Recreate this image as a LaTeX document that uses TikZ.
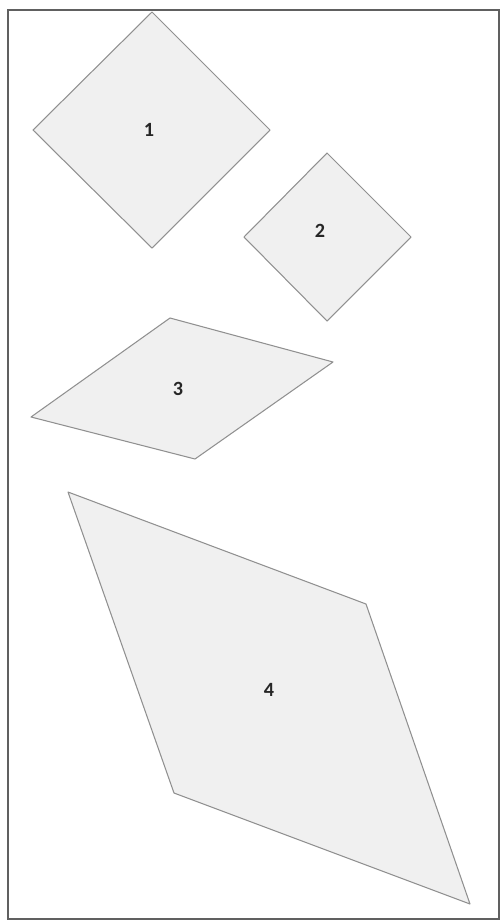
\documentclass[tikz,border=0pt]{standalone}
\usepackage{xcolor}
\usepackage{fontspec}
\setmainfont{Carlito}
\usepackage{tikz}
\usetikzlibrary {positioning}

\definecolor{paneFill}{HTML}{F0F0F0}
\definecolor{paneLine}{HTML}{909090}
\definecolor{frameLine}{HTML}{606060}

\tikzset{
  pane/.style={fill=paneFill, draw=paneLine, line width=0.6pt, line join=round},
  num/.style={font=\fontsize{11.5}{13}\selectfont\bfseries, text=black!85}
}

\begin{document}
\begin{tikzpicture}[x=0.02cm, y=-0.02cm]
\useasboundingbox (0,0) rectangle (500,920);
\draw [frameLine, line width=1pt] (8,10) rectangle (499,919);

\draw [pane] (152,12) -- (270,130) -- (152,248) -- (33,130) -- cycle;
\node (n1) at (149,130) [num] {1};

\draw [pane] (327,153) -- (411,237) -- (327,321) -- (244,237) -- cycle;
\node (n2) at (320,231) [num] {2};

\draw [pane] (170,318) -- (333,362) -- (195,459) -- (31,417) -- cycle;
\node (n3) at (178,389) [num] {3};

\draw [pane] (68,492) -- (366,604) -- (470,904) -- (174,793) -- cycle;
\node (n4) at (269,690) [num] {4};
\end{tikzpicture}
\end{document}
